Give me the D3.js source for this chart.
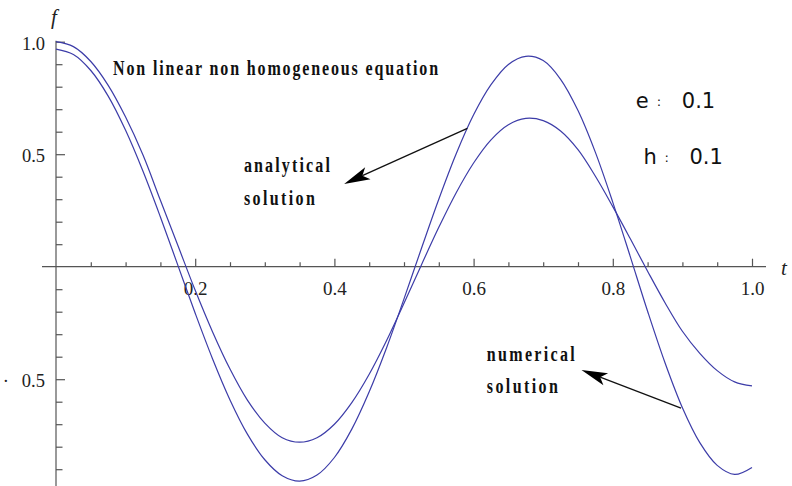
<!DOCTYPE html>
<html>
<head>
<meta charset="utf-8">
<script src="https://cdn.jsdelivr.net/npm/d3@7"></script>
<style>
  html, body { margin: 0; padding: 0; background: #ffffff; }
  svg { display: block; }
</style>
</head>
<body>
<script>
// ---- data -------------------------------------------------------------
// time samples
const tValues = [0, 0.025, 0.05, 0.075, 0.1, 0.125, 0.15, 0.175, 0.2, 0.225,
  0.25, 0.275, 0.3, 0.325, 0.35, 0.375, 0.4, 0.425, 0.45, 0.475,
  0.5, 0.525, 0.55, 0.575, 0.6, 0.625, 0.65, 0.675, 0.7, 0.725,
  0.75, 0.775, 0.8, 0.825, 0.85, 0.875, 0.9, 0.925, 0.95, 0.975, 1.0];

// solution whose amplitude decays
const fDecaying = [1.000, 0.978, 0.912, 0.806, 0.665, 0.496, 0.295, 0.095, -0.105, -0.290,
  -0.455, -0.593, -0.695, -0.760, -0.780, -0.760, -0.700, -0.604, -0.478, -0.328,
  -0.162, 0.008, 0.175, 0.329, 0.461, 0.564, 0.631, 0.659, 0.649, 0.603,
  0.520, 0.402, 0.267, 0.125, -0.020, -0.160, -0.287, -0.385, -0.462, -0.512, -0.530];

// solution that keeps its amplitude
const fSustained = [0.967, 0.943, 0.872, 0.758, 0.606, 0.424, 0.221, 0.007, -0.207, -0.410,
  -0.592, -0.744, -0.858, -0.929, -0.953, -0.926, -0.848, -0.722, -0.556, -0.360,
  -0.143, 0.081, 0.300, 0.502, 0.675, 0.809, 0.899, 0.935, 0.916, 0.833,
  0.694, 0.508, 0.286, 0.046, -0.198, -0.427, -0.627, -0.782, -0.883, -0.923, -0.892];

// axis ticks
const xMajorTicks = [0.2, 0.4, 0.6, 0.8, 1.0];
const xTickLabels = ["0.2", "0.4", "0.6", "0.8", "1.0"];
const yMajorTicks = [1.0, 0.5, -0.5];
const yTickLabels = ["1.0", "0.5", "\u00B7\u2002\u2009" + "0.5"];

// annotations
const titleText = "Non linear non homogeneous equation";
const paramNames = ["e", "h"];
const paramValues = ["0.1", "0.1"];

// ---- layout -----------------------------------------------------------
const W = 792, H = 486;
const x = d3.scaleLinear().domain([0, 1]).range([56, 752]);
const y = d3.scaleLinear().domain([0, 1]).range([266.7, 41.7]);

const axisColor = "#555555";
const curveColor = "#3c3ca8";
const serif = "'Liberation Serif', 'Times New Roman', serif";
const sans = "'DejaVu Sans', sans-serif";

const svg = d3.select("body").append("svg")
  .attr("width", W).attr("height", H)
  .attr("viewBox", `0 0 ${W} ${H}`);

// ---- axes -------------------------------------------------------------
// x axis line (extends a little past both ends)
svg.append("line")
  .attr("x1", 42).attr("x2", 766)
  .attr("y1", y(0)).attr("y2", y(0))
  .attr("stroke", axisColor).attr("stroke-width", 1.2);

// y axis line
svg.append("line")
  .attr("x1", x(0)).attr("x2", x(0))
  .attr("y1", y(1.0) - 1).attr("y2", H)
  .attr("stroke", axisColor).attr("stroke-width", 1.2);

// x minor ticks (pointing up)
const xMinor = d3.range(1, 21).map(i => i * 0.05).filter(v => Math.abs(v * 5 - Math.round(v * 5)) > 1e-6);
const gxMinor = svg.append("g").attr("transform", `translate(0,${y(0)})`)
  .call(d3.axisBottom(x).tickValues(xMinor).tickSizeInner(-4.5).tickSizeOuter(0).tickFormat(""));
gxMinor.select(".domain").remove();

// x major ticks with labels
const gx = svg.append("g").attr("transform", `translate(0,${y(0)})`)
  .call(d3.axisBottom(x).tickValues(xMajorTicks).tickSizeInner(-8).tickSizeOuter(0)
    .tickPadding(15).tickFormat((d, i) => xTickLabels[i]));
gx.select(".domain").remove();

// y minor ticks (pointing right)
const yMinor = d3.range(-9, 11).map(i => i / 10).filter(v => v !== 0 && Math.abs(v) !== 0.5 && v !== 1);
const gyMinor = svg.append("g").attr("transform", `translate(${x(0)},0)`)
  .call(d3.axisLeft(y).tickValues(yMinor).tickSizeInner(-6.5).tickSizeOuter(0).tickFormat(""));
gyMinor.select(".domain").remove();

// y major ticks with labels
const gy = svg.append("g").attr("transform", `translate(${x(0)},0)`)
  .call(d3.axisLeft(y).tickValues(yMajorTicks).tickSizeInner(-9).tickSizeOuter(0)
    .tickPadding(11).tickFormat((d, i) => yTickLabels[i]));
gy.select(".domain").remove();

svg.selectAll(".tick line").attr("stroke", axisColor).attr("stroke-width", 1.2);
gx.selectAll(".tick text")
  .attr("font-family", serif).attr("font-size", 19).attr("fill", "#222");
gy.selectAll(".tick text")
  .attr("font-family", serif).attr("font-size", 18.5).attr("fill", "#222")
  .attr("dy", "0.42em");

// axis titles
svg.append("text")
  .attr("x", 51).attr("y", 24)
  .attr("font-family", serif).attr("font-style", "italic").attr("font-size", 21)
  .attr("fill", "#222").text("f");
svg.append("text")
  .attr("x", 781).attr("y", 275)
  .attr("font-family", serif).attr("font-style", "italic").attr("font-size", 21)
  .attr("fill", "#222").text("t");

// ---- curves -----------------------------------------------------------
const line = d3.line()
  .x((d, i) => x(tValues[i]))
  .y(d => y(d))
  .curve(d3.curveCatmullRom.alpha(0.5));

[fDecaying, fSustained].forEach(series => {
  svg.append("path")
    .attr("d", line(series))
    .attr("fill", "none")
    .attr("stroke", curveColor)
    .attr("stroke-width", 1.2);
});

// ---- annotations ------------------------------------------------------
// condensed bold serif label, stretched over a given width
function boldLabel(str, tx, fy, width) {
  const sx = 0.8;
  const g = svg.append("g")
    .attr("transform", `translate(${x(tx)},${y(fy)}) scale(${sx},1)`);
  g.append("text")
    .attr("x", 0).attr("y", 0)
    .attr("font-family", serif).attr("font-weight", "bold").attr("font-size", 20)
    .attr("fill", "#111")
    .attr("textLength", width / sx).attr("lengthAdjust", "spacing")
    .text(str);
}

boldLabel(titleText, 0.082, 0.852, 325);
boldLabel("analytical", 0.270, 0.422, 86);
boldLabel("solution", 0.270, 0.274, 71);
boldLabel("numerical", 0.619, -0.418, 88);
boldLabel("solution", 0.619, -0.560, 71);

// arrows from a curve to a label
function arrow(t0, f0, t1, f1) {
  const x0 = x(t0), y0 = y(f0), x1 = x(t1), y1 = y(f1);
  const dx = x1 - x0, dy = y1 - y0, len = Math.hypot(dx, dy);
  const ux = dx / len, uy = dy / len, px = -uy, py = ux;
  const L = 26, Wd = 6.5, notch = 20;
  const bx = x1 - ux * L, by = y1 - uy * L;
  const nx = x1 - ux * notch, ny = y1 - uy * notch;
  svg.append("line")
    .attr("x1", x0).attr("y1", y0).attr("x2", nx).attr("y2", ny)
    .attr("stroke", "#111").attr("stroke-width", 1.3);
  svg.append("path")
    .attr("d", `M${x1},${y1}L${bx + px * Wd},${by + py * Wd}L${nx},${ny}L${bx - px * Wd},${by - py * Wd}Z`)
    .attr("fill", "#000");
}
arrow(0.591, 0.615, 0.414, 0.368);
arrow(0.898, -0.629, 0.755, -0.459);

// parameter labels
const paramPos = [[0.833, 0.704], [0.844, 0.456]];
paramNames.forEach((name, i) => {
  const px0 = x(paramPos[i][0]), py0 = y(paramPos[i][1]);
  const t = svg.append("text")
    .attr("y", py0).attr("font-family", sans).attr("fill", "#111");
  t.append("tspan").attr("x", px0).attr("font-size", 21).text(name);
  t.append("tspan").attr("x", px0 + 21).attr("font-size", 13).attr("dy", -2).text(":");
  t.append("tspan").attr("x", px0 + 46).attr("font-size", 21).attr("dy", 2).text(paramValues[i]);
});
</script>
</body>
</html>
